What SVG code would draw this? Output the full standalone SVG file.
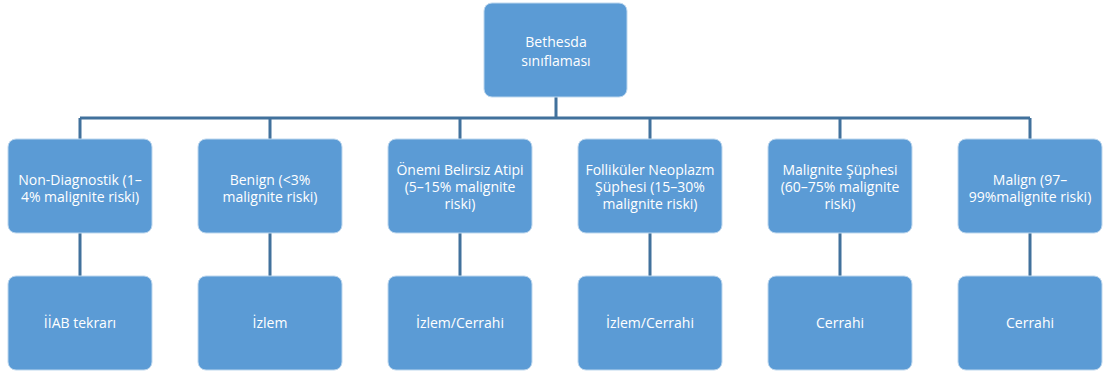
<svg xmlns="http://www.w3.org/2000/svg" width="1103" height="374" viewBox="0 0 1103 374">
<style>
.box{fill:#5B9BD5;stroke:#BDD7EE;stroke-width:1}
.t{fill:#fff;font-family:"Open Sans","Liberation Sans",sans-serif;font-size:14px;text-anchor:middle}
.c{stroke:#41719C;stroke-width:3;fill:none}
</style>
<rect width="1103" height="374" fill="#fff"/>
<g id="connectors">
<path class="c" d="M556 97V118M80 118H1030M80 118V139M270 118V139M460 118V139M650 118V139M840 118V139M1030 118V139"/>
<path class="c" d="M80 233V276M270 233V276M460 233V276M650 233V276M840 233V276M1030 233V276"/>
</g>
<g id="root"><rect class="box" x="484" y="3" width="143" height="94" rx="8"/><text class="t" x="556" y="47">Bethesda</text><text class="t" x="556" y="66">sınıflaması</text></g>
<g id="n1"><rect class="box" x="8" y="139" width="144" height="94" rx="8"/><text class="t" x="80" y="185">Non-Diagnostik (1–</text><text class="t" x="80" y="202">4% malignite riski)</text></g>
<g id="n2"><rect class="box" x="198" y="139" width="144" height="94" rx="8"/><text class="t" x="270" y="185">Benign (&lt;3%</text><text class="t" x="270" y="202">malignite riski)</text></g>
<g id="n3"><rect class="box" x="388" y="139" width="144" height="94" rx="8"/><text class="t" x="460" y="175">Önemi Belirsiz Atipi</text><text class="t" x="460" y="192">(5–15% malignite</text><text class="t" x="460" y="209">riski)</text></g>
<g id="n4"><rect class="box" x="578" y="139" width="144" height="94" rx="8"/><text class="t" x="650" y="175">Folliküler Neoplazm</text><text class="t" x="650" y="192">Şüphesi (15–30%</text><text class="t" x="650" y="209">malignite riski)</text></g>
<g id="n5"><rect class="box" x="768" y="139" width="144" height="94" rx="8"/><text class="t" x="840" y="175">Malignite Şüphesi</text><text class="t" x="840" y="192">(60–75% malignite</text><text class="t" x="840" y="209">riski)</text></g>
<g id="n6"><rect class="box" x="958" y="139" width="144" height="94" rx="8"/><text class="t" x="1030" y="185">Malign (97–</text><text class="t" x="1030" y="202">99%malignite riski)</text></g>
<g id="m1"><rect class="box" x="8" y="276" width="144" height="94" rx="8"/><text class="t" x="80" y="328">İİAB tekrarı</text></g>
<g id="m2"><rect class="box" x="198" y="276" width="144" height="94" rx="8"/><text class="t" x="270" y="328">İzlem</text></g>
<g id="m3"><rect class="box" x="388" y="276" width="144" height="94" rx="8"/><text class="t" x="460" y="328">İzlem/Cerrahi</text></g>
<g id="m4"><rect class="box" x="578" y="276" width="144" height="94" rx="8"/><text class="t" x="650" y="328">İzlem/Cerrahi</text></g>
<g id="m5"><rect class="box" x="768" y="276" width="144" height="94" rx="8"/><text class="t" x="840" y="328">Cerrahi</text></g>
<g id="m6"><rect class="box" x="958" y="276" width="144" height="94" rx="8"/><text class="t" x="1030" y="328">Cerrahi</text></g>
</svg>
